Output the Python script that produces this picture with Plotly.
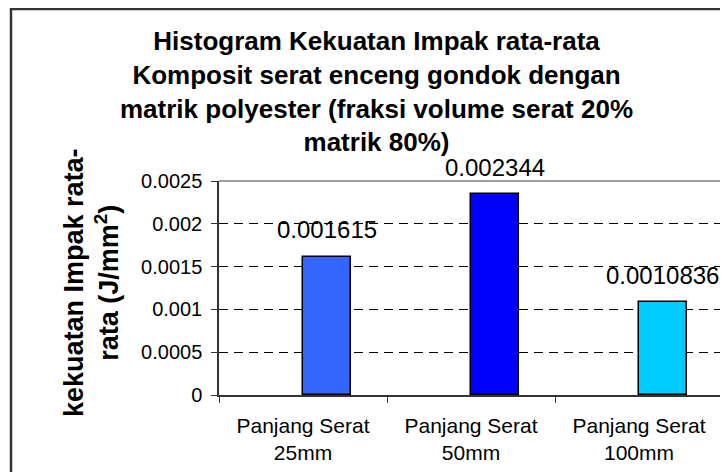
import plotly.graph_objects as go

categories = ["Panjang Serat<br>25mm", "Panjang Serat<br>50mm", "Panjang Serat<br>100mm"]
values = [0.001615, 0.002344, 0.0010836]
bar_colors = ["#3366FF", "#0000FF", "#00CCFF"]
y_tick_vals = [0, 0.0005, 0.001, 0.0015, 0.002, 0.0025]
y_tick_text = ["0", "0.0005", "0.001", "0.0015", "0.002", "0.0025"]

title_lines = ["Histogram Kekuatan Impak rata-rata",
               "Komposit serat enceng gondok dengan",
               "matrik polyester (fraksi volume serat 20%",
               "matrik 80%)"]
y_title_lines = ["kekuatan Impak rata-", "rata (J/mm<sup>2</sup>)"]

FONT = "Liberation Sans, Arial, sans-serif"
BAR_W = 0.285
W, H = 728, 472
OFF = 8  # browser default body margin shifts the figure by this much
# target plot area in page pixels: x 219..723, y 181..395
ML, MT = 219 - OFF, 181 - OFF
PW, PH = 504, 214
MR = W - ML - PW
MB = H - MT - PH


def px_x(px):
    return (px - OFF - ML) / PW


def px_y(py):
    return (MT + PH - (py - OFF)) / PH


fig = go.Figure()
fig.add_trace(go.Bar(
    x=categories, y=values, width=BAR_W, offset=0,
    marker=dict(color=bar_colors, line=dict(color="black", width=1.5)),
    showlegend=False, hoverinfo="x+y",
))

for i, v in enumerate(values):
    fig.add_annotation(x=i + BAR_W / 2, y=v, text=str(v), showarrow=False,
                       xref="x", yref="y", yanchor="middle", yshift=27,
                       font=dict(family=FONT, size=24, color="black"))

# chart title
fig.add_annotation(x=px_x(376), y=px_y(91), xref="paper", yref="paper",
                   text="<br>".join(title_lines), showarrow=False,
                   xanchor="center", yanchor="middle", align="center",
                   font=dict(family=FONT, size=26, color="black", weight="bold"))

# y-axis title
fig.add_annotation(x=px_x(91), y=px_y(283), xref="paper", yref="paper",
                   text="<br>".join(y_title_lines), textangle=-90, showarrow=False,
                   xanchor="center", yanchor="middle", align="center",
                   font=dict(family=FONT, size=27, color="black", weight="bold"))

# plot area top/right border (gray)
fig.add_shape(type="line", xref="paper", yref="paper", x0=0, x1=1, y0=1, y1=1,
              line=dict(color="#808080", width=1.5), layer="above")
fig.add_shape(type="line", xref="paper", yref="paper", x0=1, x1=1, y0=0, y1=1,
              line=dict(color="#808080", width=1.5), layer="above")
# outer chart border
fig.add_shape(type="rect", xref="paper", yref="paper",
              x0=px_x(11), x1=px_x(745), y0=px_y(490), y1=px_y(9),
              line=dict(color="#333333", width=2.5), layer="above")

fig.update_layout(
    width=W, height=H,
    margin=dict(l=ML, r=MR, t=MT, b=MB, autoexpand=False),
    paper_bgcolor="white", plot_bgcolor="white",
    font=dict(family=FONT, size=20, color="black"),
    bargap=0,
)
fig.update_xaxes(
    type="category", tickson="boundaries", ticks="outside", ticklen=6,
    tickcolor="#333333", showline=True, linecolor="#333333", linewidth=1.5,
    showgrid=False, automargin=False, ticklabelstandoff=11,
    tickfont=dict(family=FONT, size=21, color="black"),
)
fig.update_yaxes(
    range=[0, 0.0025], tickvals=y_tick_vals, ticktext=y_tick_text,
    ticks="outside", ticklen=6, tickcolor="#333333",
    showline=True, linecolor="#333333", linewidth=1.5,
    showgrid=True, gridcolor="black", gridwidth=1, griddash="9px,6px",
    zeroline=False, automargin=False, ticklabelstandoff=5,
    tickfont=dict(family=FONT, size=20, color="black"),
)

fig.write_html("out.html")
